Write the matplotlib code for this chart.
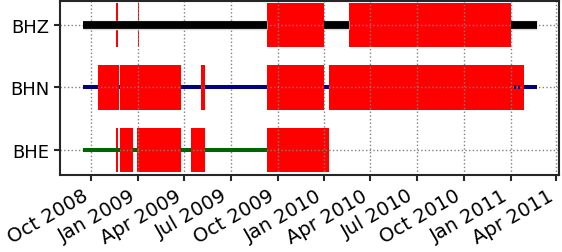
import datetime as dt
import matplotlib
matplotlib.use("Agg")
import matplotlib.pyplot as plt
import matplotlib.dates as mdates
import matplotlib.patheffects as pe


def d(s):
    return dt.datetime.strptime(s, "%Y-%m-%d")


# ---- Channels (top to bottom) and colours
channels = ["BHZ", "BHN", "BHE"]
rows = [2, 1, 0]
colors = ["black", "navy", "darkgreen"]
line_widths = [5.6, 2.9, 2.9]

# ---- Data segments (start, end) per channel
segments = {
    "BHZ": [("2008-09-14", "2009-09-11"), ("2010-01-01", "2010-02-19"),
            ("2011-01-02", "2011-02-21")],
    "BHN": [("2008-09-14", "2008-10-13"), ("2008-11-23", "2008-11-25"),
            ("2009-03-26", "2009-05-04"), ("2009-05-11", "2009-09-11"),
            ("2010-01-01", "2010-01-09"), ("2011-01-08", "2011-01-11"),
            ("2011-01-15", "2011-01-20"), ("2011-01-28", "2011-02-21")],
    "BHE": [("2008-09-14", "2008-11-25"), ("2008-12-21", "2008-12-30"),
            ("2009-03-26", "2009-04-14"), ("2009-05-11", "2009-09-11")],
}

# ---- Gaps (start, end) per channel
gaps = {
    "BHZ": [("2008-11-19", "2008-11-22"), ("2008-12-31", "2009-01-03"),
            ("2009-09-11", "2010-01-01"), ("2010-02-19", "2011-01-02")],
    "BHN": [("2008-10-13", "2008-11-23"), ("2008-11-25", "2009-03-26"),
            ("2009-05-04", "2009-05-11"), ("2009-09-11", "2010-01-01"),
            ("2010-01-09", "2011-01-28")],
    "BHE": [("2008-11-19", "2008-11-22"), ("2008-11-25", "2008-12-21"),
            ("2008-12-30", "2009-03-26"), ("2009-04-14", "2009-05-11"),
            ("2009-09-11", "2010-01-09")],
}

fig = plt.figure(figsize=(5.62, 2.53), dpi=100)
ax = fig.add_axes([0.107, 0.304, 0.888, 0.688])

for ch, y, c, lw in zip(channels, rows, colors, line_widths):
    xr = []
    for s, e in gaps[ch]:
        x0 = mdates.date2num(d(s))
        xr.append((x0, mdates.date2num(d(e)) - x0))
    ax.broken_barh(xr, (y - 0.355, 0.71), facecolors="red", linewidth=0, zorder=1)

    starts = [d(s) for s, e in segments[ch]]
    ends = [d(e) for s, e in segments[ch]]
    lc = ax.hlines([y] * len(starts), starts, ends, colors=c, linewidth=lw, zorder=3)
    if ch == "BHZ":
        lc.set_path_effects([pe.Stroke(linewidth=lw + 1.2, foreground="0.85"), pe.Normal()])

ax.set_ylim(-0.4, 2.38)
ax.set_yticks(rows)
ax.set_yticklabels(channels, fontsize=13)

ax.xaxis.set_major_locator(mdates.MonthLocator(bymonth=[1, 4, 7, 10]))
ax.xaxis.set_major_formatter(mdates.DateFormatter("%b %Y"))
plt.setp(ax.get_xticklabels(), rotation=30, ha="right", fontsize=14)

ax.set_axisbelow("line")
ax.grid(True, color="0.5", linestyle=":", linewidth=1.0, zorder=2)
for sp in ax.spines.values():
    sp.set_color("0.15")
    sp.set_linewidth(1.5)
ax.tick_params(length=4, width=1.5, color="0.15")

fig.savefig("out.png", dpi=100)
